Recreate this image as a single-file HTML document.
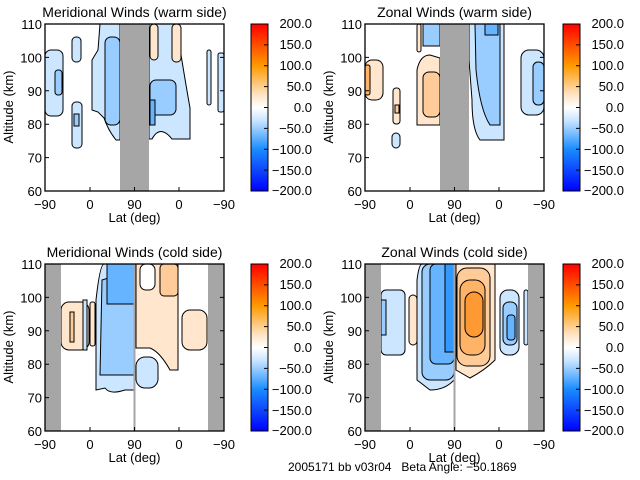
<!DOCTYPE html>
<html><head><style>
body{margin:0;background:#fff;}
svg{display:block;font-family:"Liberation Sans","DejaVu Sans",sans-serif;}
</style></head><body>
<svg width="640" height="480" viewBox="0 0 640 480" xmlns="http://www.w3.org/2000/svg">
<defs>
<linearGradient id="cb" x1="0" y1="0" x2="0" y2="1">
<stop offset="0" stop-color="#ff0000"/>
<stop offset="0.25" stop-color="#ff9a00"/>
<stop offset="0.42" stop-color="#ffe2c0"/>
<stop offset="0.5" stop-color="#ffffff"/>
<stop offset="0.58" stop-color="#c8e4ff"/>
<stop offset="0.75" stop-color="#1a8cff"/>
<stop offset="1" stop-color="#0000ff"/>
</linearGradient>
<g id="axes">
<rect x="45" y="24" width="179" height="167" fill="none" stroke="#000" stroke-width="1.3"/>
<g stroke="#000" stroke-width="1">
<path d="M45,24h4M45,57.4h4M45,90.8h4M45,124.2h4M45,157.6h4M45,191h4"/>
<path d="M224,24h-4M224,57.4h-4M224,90.8h-4M224,124.2h-4M224,157.6h-4M224,191h-4"/>
<path d="M45,191v-4M90,191v-4M134.5,191v-4M179,191v-4M224,191v-4"/>
</g>
<g font-size="13" text-anchor="end">
<text x="42" y="29">110</text><text x="42" y="62.4">100</text><text x="42" y="95.8">90</text>
<text x="42" y="129.2">80</text><text x="42" y="162.6">70</text><text x="42" y="196">60</text>
</g>
<g font-size="13" text-anchor="middle">
<text x="45" y="209">−90</text><text x="90" y="209">0</text><text x="134.5" y="209">90</text>
<text x="179" y="209">0</text><text x="224" y="209">−90</text>
<text x="134.5" y="222">Lat (deg)</text>
</g>
<text font-size="13" text-anchor="middle" transform="translate(13,107) rotate(-90)">Altitude (km)</text>
</g>
<g id="cbar">
<rect x="0" y="24" width="17" height="167" fill="url(#cb)" stroke="#000" stroke-width="1"/>
<g stroke="#000"><path d="M17,44.9h-4M17,65.8h-4M17,86.6h-4M17,107.5h-4M17,128.4h-4M17,149.3h-4M17,170.1h-4"/></g>
<g font-size="13" text-anchor="end">
<text x="61" y="28">200.0</text><text x="61" y="49">150.0</text><text x="61" y="70">100.0</text>
<text x="61" y="91">50.0</text><text x="61" y="112">0.0</text><text x="61" y="133">−50.0</text>
<text x="61" y="154">−100.0</text><text x="61" y="175">−150.0</text><text x="61" y="195">−200.0</text>
</g>
</g>
</defs>

<!-- Top-left: Meridional warm -->
<g>
<g stroke="#000" stroke-width="1">
<rect x="45" y="50" width="18" height="66" rx="6" fill="#cce6ff"/>
<rect x="55" y="70" width="7" height="25" rx="3" fill="#99ccff"/>
<rect x="72" y="37" width="9" height="25" rx="4" fill="#cce6ff"/>
<rect x="72" y="102" width="10" height="46" rx="4" fill="#cce6ff"/>
<rect x="74" y="114" width="5" height="12" fill="#99ccff"/>
<path d="M92,110 L92,60 L98,50 L100,24 L120,24 L120,140 L116,140 Q108,130 104,118 L98,112 Z" fill="#cce6ff"/>
<rect x="105" y="37" width="15" height="88" rx="6" fill="#99ccff"/>
<path d="M149,24 L176,24 Q185,80 190,108 L190,139 L172,139 Q160,124 152,139 L149,139Z" fill="#cce6ff"/>
<rect x="150" y="80" width="26" height="35" rx="6" fill="#99ccff"/>
<rect x="150" y="100" width="5" height="25" fill="#66b3ff"/>
<rect x="150" y="24" width="8" height="36" rx="4" fill="#ffe6cc"/>
<rect x="172" y="24" width="9" height="38" rx="4" fill="#ffe6cc"/>
<rect x="207" y="50" width="4" height="55" rx="2" fill="#cce6ff"/>
<rect x="218" y="53" width="6" height="59" rx="2" fill="#cce6ff"/>
</g>
<rect x="120" y="24" width="29" height="167" fill="#a6a6a6"/>
<text x="134.5" y="17" font-size="14" text-anchor="middle">Meridional Winds (warm side)</text>
<use href="#axes"/>
<use href="#cbar" x="251"/>
</g>

<!-- Top-right: Zonal warm -->
<g transform="translate(320,0)">
<g stroke="#000" stroke-width="1">
<rect x="45" y="60" width="18" height="40" rx="7" fill="#ffe6cc"/>
<rect x="45" y="65" width="5" height="30" rx="2" fill="#ffb366"/>
<rect x="73" y="88" width="7" height="36" rx="3" fill="#ffe6cc"/>
<rect x="75" y="105" width="4" height="8" fill="#ffcc99"/>
<rect x="72" y="133" width="8" height="15" rx="4" fill="#cce6ff"/>
<rect x="97" y="24" width="4" height="28" rx="2" fill="#ffe6cc"/>
<rect x="103" y="24" width="17" height="22" fill="#99ccff"/>
<path d="M97,125 L97,70 Q100,55 110,55 L120,58 L120,125Z" fill="#ffe6cc"/>
<rect x="103" y="72" width="17" height="45" rx="6" fill="#ffcc99"/>
<path d="M149,24 L184,24 L184,140 L160,140 Q152,130 152,100 L149,60Z" fill="#cce6ff"/>
<path d="M155,24 L180,24 L180,125 L170,125 Q160,110 156,70Z" fill="#99ccff"/>
<rect x="165" y="24" width="13" height="11" fill="#66b3ff"/>
<rect x="201" y="50" width="23" height="65" rx="8" fill="#cce6ff"/>
<rect x="213" y="62" width="11" height="43" rx="5" fill="#99ccff"/>
</g>
<rect x="120" y="24" width="29" height="167" fill="#a6a6a6"/>
<text x="134.5" y="17" font-size="14" text-anchor="middle">Zonal Winds (warm side)</text>
<use href="#axes"/>
<use href="#cbar" x="243"/>
</g>

<!-- Bottom-left: Meridional cold -->
<g transform="translate(0,240)">
<g stroke="#000" stroke-width="1">
<rect x="61" y="62" width="28" height="48" rx="8" fill="#ffe6cc"/>
<rect x="70" y="72" width="4" height="30" fill="#ffcc99"/>
<rect x="83" y="60" width="4" height="50" fill="#cce6ff"/>
<rect x="90" y="62" width="5" height="44" rx="2" fill="#ffe6cc"/>
<path d="M96,150 L96,60 Q100,24 104,24 L134,24 L134,150 L125,150 Q110,155 105,148Z" fill="#cce6ff"/>
<path d="M100,135 L102,40 L134,30 L134,135 Z" fill="#99ccff"/>
<rect x="107" y="24" width="27" height="40" fill="#66b3ff"/>
<path d="M136,24 L178,24 L178,130 L170,130 Q160,112 150,108 L136,108Z" fill="#ffe6cc"/>
<rect x="160" y="24" width="18" height="32" rx="4" fill="#ffcc99"/>
<rect x="140" y="24" width="15" height="26" rx="6" fill="#ffffff"/>
<rect x="136" y="117" width="22" height="31" rx="9" fill="#cce6ff"/>
<rect x="182" y="70" width="25" height="40" rx="8" fill="#ffe6cc"/>
</g>
<rect x="45" y="24" width="16" height="167" fill="#a6a6a6"/>
<rect x="208" y="24" width="16" height="167" fill="#a6a6a6"/>
<line x1="134.5" y1="24" x2="134.5" y2="191" stroke="#a6a6a6" stroke-width="2"/>
<text x="134.5" y="17" font-size="14" text-anchor="middle">Meridional Winds (cold side)</text>
<use href="#axes"/>
<use href="#cbar" x="251"/>
</g>

<!-- Bottom-right: Zonal cold -->
<g transform="translate(320,240)">
<g stroke="#000" stroke-width="1">
<rect x="61" y="50" width="24" height="65" rx="5" fill="#cce6ff"/>
<rect x="61" y="60" width="5" height="35" fill="#99ccff"/>
<rect x="89" y="55" width="8" height="50" rx="4" fill="#ffe6cc"/>
<path d="M97,140 L97,40 Q99,24 102,24 L134,24 L134,140 Q125,150 110,150Z" fill="#cce6ff"/>
<rect x="102" y="24" width="32" height="116" rx="8" fill="#99ccff"/>
<rect x="110" y="24" width="24" height="100" rx="6" fill="#66b3ff"/>
<rect x="125" y="24" width="9" height="88" fill="#3399ff"/>
<path d="M136,24 L175,24 L175,120 Q165,130 150,138 L136,130Z" fill="#ffe6cc"/>
<rect x="137" y="28" width="33" height="98" rx="10" fill="#ffcc99"/>
<rect x="140" y="40" width="25" height="75" rx="10" fill="#ffb366"/>
<rect x="145" y="52" width="18" height="45" rx="9" fill="#ff9933"/>
<rect x="180" y="50" width="19" height="65" rx="8" fill="#cce6ff"/>
<rect x="183" y="62" width="14" height="43" rx="6" fill="#99ccff"/>
<rect x="187" y="75" width="8" height="25" rx="3" fill="#66b3ff"/>
<rect x="204" y="50" width="4" height="55" rx="2" fill="#cce6ff"/>
</g>
<rect x="45" y="24" width="16" height="167" fill="#a6a6a6"/>
<rect x="208" y="24" width="16" height="167" fill="#a6a6a6"/>
<line x1="134.5" y1="24" x2="134.5" y2="191" stroke="#a6a6a6" stroke-width="2"/>
<text x="134.5" y="17" font-size="14" text-anchor="middle">Zonal Winds (cold side)</text>
<use href="#axes"/>
<use href="#cbar" x="243"/>
</g>

<text x="288" y="471" font-size="12" style="white-space:pre" xml:space="preserve">2005171 bb v03r04   Beta Angle: −50.1869</text>
</svg>
</body></html>
